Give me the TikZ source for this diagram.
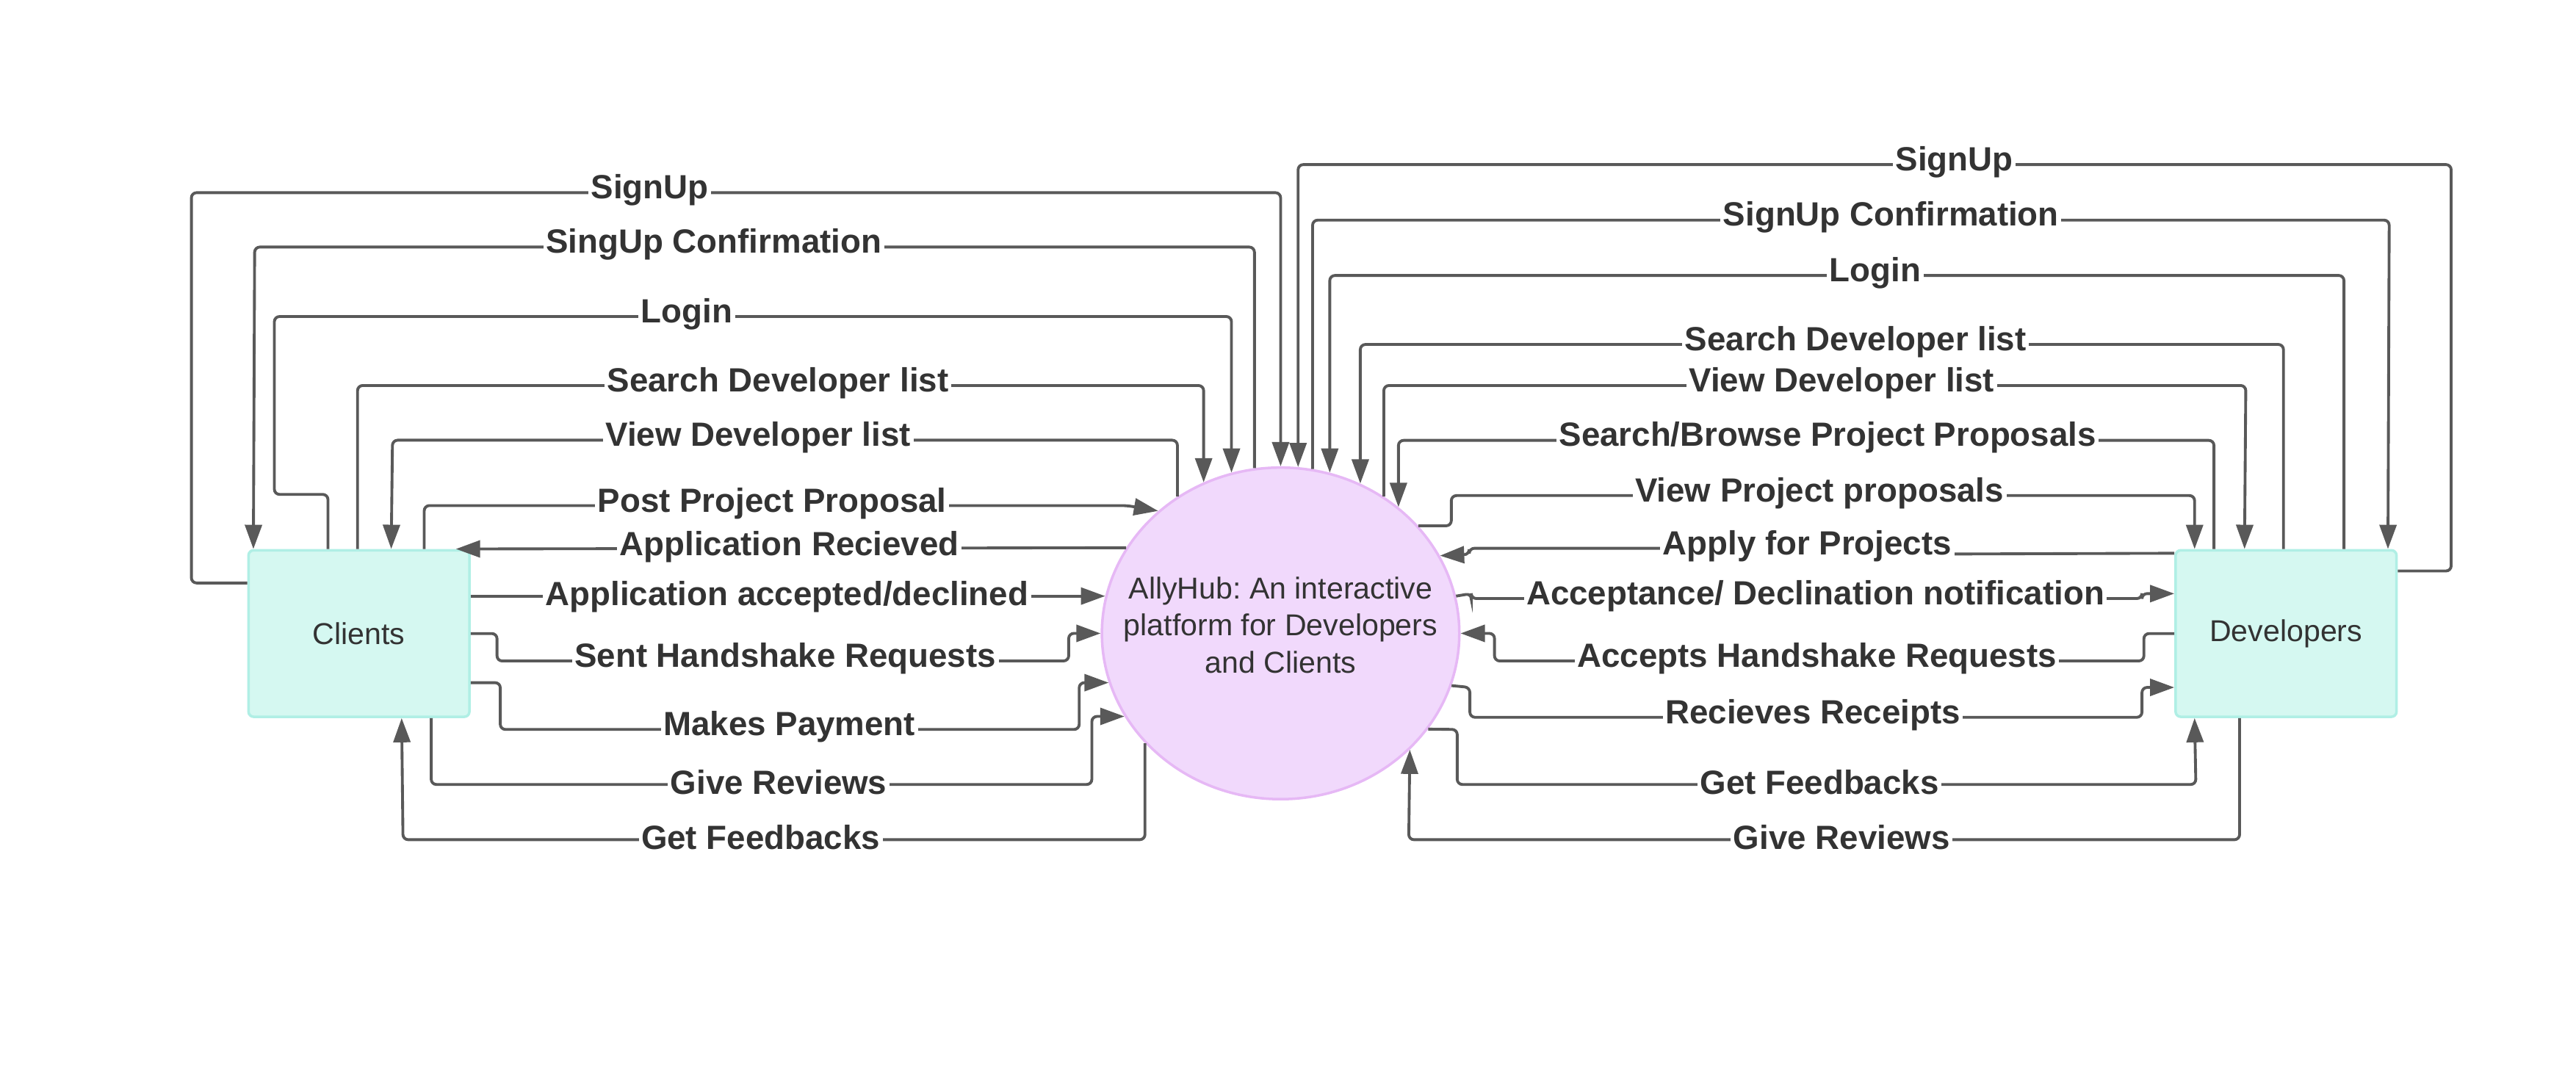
\documentclass[tikz,border=0pt]{standalone}
\usepackage{fontspec}
\setmainfont{Liberation Sans}
\usetikzlibrary{arrows.meta,calc,shapes.geometric}
\definecolor{linec}{HTML}{595959}
\definecolor{txtc}{HTML}{333333}
\definecolor{boxfill}{HTML}{D5F8F1}
\definecolor{boxdraw}{HTML}{B0EFE5}
\definecolor{hubfill}{HTML}{F1D9FC}
\definecolor{hubdraw}{HTML}{E6B8F5}
\frenchspacing
\begin{document}
\begin{tikzpicture}[x=0.022366cm,y=-0.022366cm,
  conn/.style={draw=linec, line width=1.1pt, rounded corners=2pt},
  arr/.style={conn, -{Triangle[length=3.3mm,width=2.3mm]}},
  lbl/.style={fill=white, inner sep=1pt, yshift=1pt, text=txtc, font=\fontsize{13}{15.6}\selectfont\bfseries},
  boxst/.style={draw=boxdraw, fill=boxfill, line width=1pt, rounded corners=2pt,
    minimum width=3.008cm, minimum height=2.268cm, inner sep=0pt, text=txtc,
    font=\fontsize{11.7}{14.3}\selectfont},
  hubtext/.style={align=center, text=txtc, inner sep=0pt, font=\fontsize{11.7}{14.3}\selectfont},
  hubst/.style={ellipse, draw=hubdraw, fill=hubfill, line width=1pt,
    minimum width=4.867cm, minimum height=4.516cm, inner sep=0pt}]
\useasboundingbox (0,0) rectangle (1568,658);

\node[boxst] (cl) at (218.5,385.7) {Clients};
\node[boxst] (dv) at (1391.5,385.7) {Developers};
\node[hubst, label={[hubtext, yshift=3.2pt]center:{AllyHub: An interactive\\platform for Developers\\and Clients}}] (hub) at (779.5,385.6) {};

% ---- Clients side connectors
\draw[arr] ($(cl.north west)+(0,20.7)$) -| (116.5,117.3) -| (hub.90.28);
\draw[arr] (hub.99.44) |- (155,150.4) -- ($(cl.north west)+(3.75,0)$);
\draw[arr] ($(cl.north west)+(49.15,0)$) |- (167,301) -- (167,192.7) -| (hub.107.17);
\draw[arr] ($(cl.north west)+(67.15,0)$) |- (500,234.7) -| (hub.117);
\draw[arr] (hub.127.28) |- (238.9,268) -- ($(cl.north west)+(87.65,0)$);
\draw[arr] ($(cl.north west)+(107.75,0)$) |- (686,307.8) -- (hub.135.5);
\draw[arr] (hub.151.3) -- ($(cl.north east)+(-9,0)$);
\draw[arr] (cl.east |- hub.168.89) -- (hub.168.89);
\draw[arr] (cl.east) -- ++(16,0) |- (650.5,402.4) |- (hub.180);
\draw[arr] (cl.east |- hub.196.06) -- ++(18,0) |- (656.9,444.1) |- (hub.196.06);
\draw[arr] ($(cl.south west)+(112,0)$) |- (664.6,477.6) |- (hub.208.58);
\draw[arr] (hub.219.69) |- (245.3,511.2) -- ($(cl.south west)+(94,0)$);

% ---- Developers side connectors
\draw[arr] ($(dv.north east)+(0,13.4)$) -| (1492,100.2) -| (hub.84.6);
\draw[arr] (hub.79.7) |- (1454.3,134) -- ($(dv.north west)+(130.05,0)$);
\draw[arr] ($(dv.north west)+(103.25,0)$) |- (1000,167.7) -| (hub.73.53);
\draw[arr] ($(dv.north west)+(66.45,0)$) |- (1000,209.7) -| (hub.62.2);
\draw[arr] (hub.53.68) |- (1367,234.7) -- ($(dv.north west)+(42.75,0)$);
\draw[arr] ($(dv.north west)+(24.15,0)$) |- (1000,268.1) -| (hub.47.56);
\draw[arr] (hub.38.12) -| (883.4,301.7) -| ($(dv.north west)+(12.35,0)$);
\draw[arr] ($(dv.north west)+(0,2.6)$) -- (1100,337.6) -- (1100,333.8) -- (894.3,333.8) -- (894.3,337.6) -- (hub.26.63);
\draw[arr] (hub.12.9) -- (895.5,361.4) -- (895.5,364.4) -- (1303.8,364.4) -- (1303.8,361.4) -- ($(dv.west)+(0,-24.3)$);
\draw[arr] (dv.west) -- ++(-18.5,0) |- (909.7,402.4) |- (hub.0);
\draw[arr] (hub.-17.73) -- (894.7,418.5) |- (1303.8,436.7) |- ($(dv.west)+(0,32.8)$);
\draw[arr] (hub.-33.41) -- (887,444.1) |- (1336.6,477.6) -- ($(dv.south west)+(12.35,0)$);
\draw[arr] ($(dv.south west)+(39.75,0)$) |- (857.5,511.2) -- (hub.-42.07);

% ---- labels, left
\node[lbl] (l1) at (395.5,117.3) {SignUp};
\node[lbl] (l2) at (434.5,150.4) {SingUp Confirmation};
\node[lbl] (l3) at (418,192.7) {Login};
\node[lbl] (l4) at (473.5,234.7) {Search Developer list};
\node[lbl] (l5) at (461.5,268) {View Developer list};
\node[lbl] (l6) at (470,308) {Post Project Proposal};
\node[lbl] (l7) at (480.5,334.3) {Application Recieved};
\node[lbl] (l8) at (479,364.7) {Application accepted/declined};
\node[lbl] (l9) at (478,402.4) {Sent Handshake Requests};
\node[lbl] (l10) at (480.5,444.1) {Makes Payment};
\node[lbl] (l11) at (474,477.6) {Give Reviews};
\node[lbl] (l12) at (463,511.2) {Get Feedbacks};
% ---- labels, right
\node[lbl] (r1) at (1189.5,100.2) {SignUp};
\node[lbl] (r2) at (1151,134) {SignUp Confirmation};
\node[lbl] (r3) at (1141.5,167.7) {Login};
\node[lbl] (r4) at (1129.5,209.7) {Search Developer list};
\node[lbl] (r5) at (1121,234.7) {View Developer list};
\node[lbl] (r6) at (1112.5,268.1) {Search/Browse Project Proposals};
\node[lbl] (r7) at (1107.5,301.7) {View Project proposals};
\node[lbl] (r8) at (1100,334) {Apply for Projects};
\node[lbl] (r9) at (1105,364.4) {Acceptance/ Declination notification};
\node[lbl] (r10) at (1106,402.4) {Accepts Handshake Requests};
\node[lbl] (r11) at (1103.5,436.7) {Recieves Receipts};
\node[lbl] (r12) at (1107.5,477.6) {Get Feedbacks};
\node[lbl] (r13) at (1121,511.2) {Give Reviews};
\end{tikzpicture}
\end{document}
